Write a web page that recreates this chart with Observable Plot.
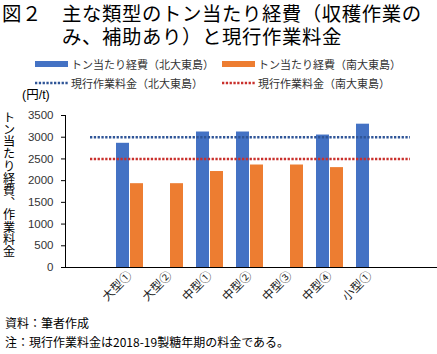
<!DOCTYPE html>
<html><head><meta charset="utf-8">
<script src="https://cdn.jsdelivr.net/npm/d3@7"></script>
<script src="https://cdn.jsdelivr.net/npm/@observablehq/plot@0.6"></script>
<style>
body{margin:0;background:#fff;}
#wrap{position:relative;width:437px;height:354px;overflow:hidden;font-family:"Liberation Sans","Noto Sans CJK JP",sans-serif;color:#000;}
.abs{position:absolute;white-space:nowrap;}
.title{font-family:"Noto Sans CJK JP",sans-serif;font-size:19.4px;line-height:23px;letter-spacing:0.6px;white-space:nowrap;padding-left:60px;text-indent:-60px;}
.leg{font-family:"Noto Sans CJK JP",sans-serif;font-size:11px;line-height:14px;display:flex;align-items:center;color:#333;}
.sw{display:inline-block;width:33px;height:6px;margin-right:3px;}
.foot{font-family:"Noto Sans CJK JP",sans-serif;font-size:12px;line-height:16px;}
#chart{position:absolute;left:0;top:90px;}
</style></head><body>
<div id="wrap">
  <div class="abs title" style="left:2px;top:1px;">図２　主な類型のトン当たり経費（収穫作業の<br>み、補助あり）と現行作業料金</div>
  <div id="legend"></div>
  <div class="abs" style="left:22px;top:87px;font-size:12.5px;line-height:16px;">(円/t)</div>
  <div class="abs" style="left:1px;top:111px;writing-mode:vertical-rl;font-family:'Noto Sans CJK JP',sans-serif;font-size:12.2px;line-height:16px;" id="ylab"></div>
  <div id="chart"></div>
  <div class="abs foot" style="left:5px;top:315px;">資料：筆者作成</div>
  <div class="abs foot" style="left:5px;top:334px;">注：現行作業料金は2018-19製糖年期の料金である。</div>
</div>
<script>
const categories = ["", "大型①", "大型②", "中型①", "中型②", "中型③", "中型④", "小型①", " "];
const costNorth = [null, 2860, null, 3120, 3120, null, 3050, 3300, null];
const costSouth = [null, 1930, 1930, 2210, 2360, 2360, 2300, null, null];
const feeNorth = [3000, 3000, 3000, 3000, 3000, 3000, 3000, 3000, 3000];
const feeSouth = [2500, 2500, 2500, 2500, 2500, 2500, 2500, 2500, 2500];
const yTicks = [0, 500, 1000, 1500, 2000, 2500, 3000, 3500];
const seriesNames = ["トン当たり経費（北大東島）", "トン当たり経費（南大東島）", "現行作業料金（北大東島）", "現行作業料金（南大東島）"];
const yLabel = "トン当たり経費、作業料金";

const colors = {barN: "#4472C4", barS: "#ED7D31", lineN: "#2F5597", lineS: "#C9302C"};

document.getElementById("ylab").textContent = yLabel;

// legend
const legend = document.getElementById("legend");
const legItems = [
  {name: seriesNames[0], type: "bar", color: colors.barN, x: 35, y: 57},
  {name: seriesNames[1], type: "bar", color: colors.barS, x: 222, y: 57},
  {name: seriesNames[2], type: "line", color: colors.lineN, x: 35, y: 76},
  {name: seriesNames[3], type: "line", color: colors.lineS, x: 222, y: 76}
];
for (const it of legItems) {
  const d = document.createElement("div");
  d.className = "abs leg";
  d.style.left = it.x + "px";
  d.style.top = it.y + "px";
  if (it.type === "bar") {
    d.innerHTML = `<span class="sw" style="background:${it.color}"></span><span>${it.name}</span>`;
  } else {
    d.innerHTML = `<svg width="33" height="6" style="margin-right:3px"><line x1="0" x2="33" y1="3" y2="3" stroke="${it.color}" stroke-width="2.5" stroke-dasharray="2.3,1.5"/></svg><span>${it.name}</span>`;
  }
  legend.appendChild(d);
}

const bars = categories.map((c, i) => ({cat: c, north: costNorth[i], south: costSouth[i], feeN: feeNorth[i], feeS: feeSouth[i]}));

const chart = Plot.plot({
  width: 437,
  height: 230,
  marginTop: 25,
  marginBottom: 53,
  marginLeft: 65,
  marginRight: 0,
  style: {fontFamily: "'Liberation Sans','Noto Sans CJK JP',sans-serif", fontSize: "11.5px", color: "#000", background: "transparent"},
  x: {domain: categories, range: [62, 437], padding: 0.328, label: null},
  y: {domain: [0, 3500], label: null},
  marks: [
    Plot.barY(bars, {x: "cat", y: "north", fill: colors.barN, insetRight: 14}),
    Plot.barY(bars, {x: "cat", y: "south", fill: colors.barS, insetLeft: 14}),
    Plot.lineY(bars, {x: "cat", y: "feeN", stroke: colors.lineN, strokeWidth: 2.5, strokeDasharray: "2.3,1.5", strokeLinecap: "butt"}),
    Plot.lineY(bars, {x: "cat", y: "feeS", stroke: colors.lineS, strokeWidth: 2.5, strokeDasharray: "2.3,1.5", strokeLinecap: "butt"}),
    Plot.axisY({ticks: yTicks, tickSize: 4, tickPadding: 8, label: null, stroke: "#000", fill: "#333", tickFormat: d => String(d)}),
    Plot.frame({anchor: "left", stroke: "#000"}),
    Plot.ruleY([0], {stroke: "#000", strokeWidth: 1.2}),
    Plot.axisX({tickSize: 0, tickRotate: -45, tickPadding: 6, label: null, fontSize: 12, fill: "#222",
      fontFamily: "'Noto Sans CJK JP',sans-serif",
      tickFormat: d => d.trim() === "" ? "" : d})
  ]
});
document.getElementById("chart").appendChild(chart);
</script>
</body></html>
